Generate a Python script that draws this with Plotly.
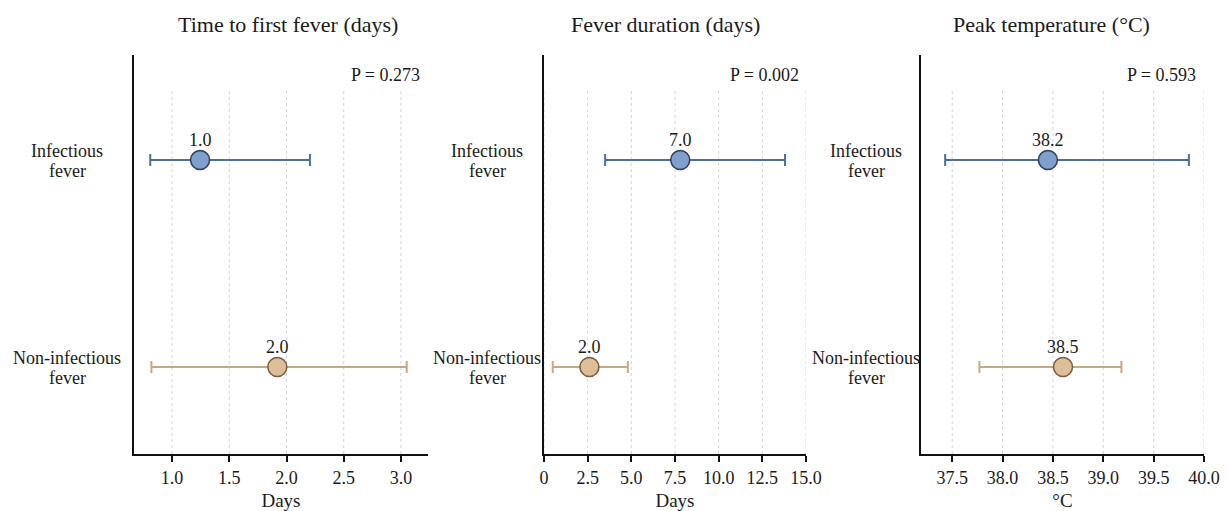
import plotly.graph_objects as go

# ---------------- data ----------------
panel_titles = ["Time to first fever (days)", "Fever duration (days)", "Peak temperature (°C)"]
axis_titles = ["Days", "Days", "°C"]
p_values = ["P = 0.273", "P = 0.002", "P = 0.593"]
group_line1 = ["Infectious", "Non-infectious"]
group_line2 = ["fever", "fever"]

inf_point = [1.245, 7.8, 38.45]
inf_low = [0.81, 3.5, 37.43]
inf_high = [2.205, 13.8, 39.85]
inf_median = ["1.0", "7.0", "38.2"]

non_point = [1.92, 2.6, 38.60]
non_low = [0.82, 0.5, 37.77]
non_high = [3.05, 4.8, 39.18]
non_median = ["2.0", "2.0", "38.5"]

tick_vals = [
    [1.0, 1.5, 2.0, 2.5, 3.0],
    [0, 2.5, 5.0, 7.5, 10.0, 12.5, 15.0],
    [37.5, 38.0, 38.5, 39.0, 39.5, 40.0],
]
tick_text = [
    ["1.0", "1.5", "2.0", "2.5", "3.0"],
    ["0", "2.5", "5.0", "7.5", "10.0", "12.5", "15.0"],
    ["37.5", "38.0", "38.5", "39.0", "39.5", "40.0"],
]
x_ranges = [[0.668, 3.236], [0, 15], [37.19, 40.0]]

# ---------------- style ----------------
W, H = 1228, 511
FONT = "Liberation Serif, Times New Roman, serif"
TXT = "#1a1a1a"
BLUE_FILL, BLUE_EDGE, BLUE_LINE = "#7f9fcc", "#2c3e5c", "#4e6e96"
TAN_FILL, TAN_EDGE, TAN_LINE = "#dcbf99", "#7a5c3a", "#c8a880"

dom_px = [(134, 428), (544, 806), (921, 1204)]
ydom = [1 - 454 / H, 1 - 55 / H]
yrange = [-0.42, 1.507]
grid_top = 1.348
title_px = [288, 665, 1051]
ylab_px = [67, 487, 866]

fig = go.Figure()

for i in range(3):
    xa = "x" if i == 0 else f"x{i+1}"
    ya = "y" if i == 0 else f"y{i+1}"
    series = [
        (1, inf_point[i], inf_low[i], inf_high[i], inf_median[i], BLUE_FILL, BLUE_EDGE, BLUE_LINE),
        (0, non_point[i], non_low[i], non_high[i], non_median[i], TAN_FILL, TAN_EDGE, TAN_LINE),
    ]
    for yv, pt, lo, hi, med, fill, edge, line in series:
        fig.add_trace(go.Scatter(
            x=[pt], y=[yv], xaxis=xa, yaxis=ya,
            mode="markers", hoverinfo="skip",
            marker=dict(size=19, color=fill, line=dict(color=edge, width=1.5)),
            error_x=dict(type="data", symmetric=False, array=[hi - pt], arrayminus=[pt - lo],
                         color=line, thickness=2, width=6),
            showlegend=False, cliponaxis=False,
        ))
        fig.add_annotation(text=med, x=pt, y=yv, xref=xa, yref=ya, showarrow=False,
                           xanchor="center", yanchor="middle", yshift=20,
                           font=dict(family=FONT, size=18, color=TXT))

    d = dict(domain=[dom_px[i][0] / W, dom_px[i][1] / W], range=x_ranges[i],
             tickvals=tick_vals[i], ticktext=tick_text[i], showgrid=False, zeroline=False,
             showline=True, linecolor="#111111", linewidth=2, ticks="outside", ticklen=6,
             tickwidth=2, tickcolor="#111111",
             tickfont=dict(family=FONT, size=18, color=TXT),
             title=dict(text=axis_titles[i], font=dict(family=FONT, size=19, color=TXT), standoff=8),
             automargin=False, anchor=ya, fixedrange=True)
    yd = dict(domain=ydom, range=yrange, showgrid=False, zeroline=False, showticklabels=False,
              showline=True, linecolor="#111111", linewidth=2, ticks="", anchor=xa,
              automargin=False, fixedrange=True)
    fig.layout[("xaxis" if i == 0 else f"xaxis{i+1}")] = d
    fig.layout[("yaxis" if i == 0 else f"yaxis{i+1}")] = yd

    # dotted vertical gridlines at tick values
    for tv in tick_vals[i]:
        fig.add_shape(type="line", xref=xa, yref=ya, x0=tv, x1=tv, y0=yrange[0], y1=grid_top,
                      line=dict(color="#d4d4d4", width=1, dash="dot"), layer="below")

    # panel title
    fig.add_annotation(text=panel_titles[i], xref="paper", yref="paper",
                       x=title_px[i] / W, y=1 - 24 / H, showarrow=False,
                       xanchor="center", yanchor="middle",
                       font=dict(family=FONT, size=22, color=TXT))
    # p value
    fig.add_annotation(text=p_values[i], xref=f"{xa} domain", yref="paper",
                       x=0.98, y=1 - 75 / H, showarrow=False,
                       xanchor="right", yanchor="middle",
                       font=dict(family=FONT, size=18, color=TXT))
    # group labels (two centred lines)
    for yv, l1, l2 in zip([1, 0], group_line1, group_line2):
        for txt, sh in ((l1, 9), (l2, -11)):
            fig.add_annotation(text=txt, xref="paper", yref=ya, x=ylab_px[i] / W, y=yv,
                               yshift=sh, showarrow=False, xanchor="center", yanchor="middle",
                               font=dict(family=FONT, size=18, color=TXT))

fig.update_layout(width=W, height=H, margin=dict(l=0, r=0, t=0, b=0),
                  paper_bgcolor="white", plot_bgcolor="white", hovermode=False)

fig.write_html("out.html", config={"displayModeBar": False},
               post_script="document.body.style.margin='0';document.body.style.overflow='hidden';")
